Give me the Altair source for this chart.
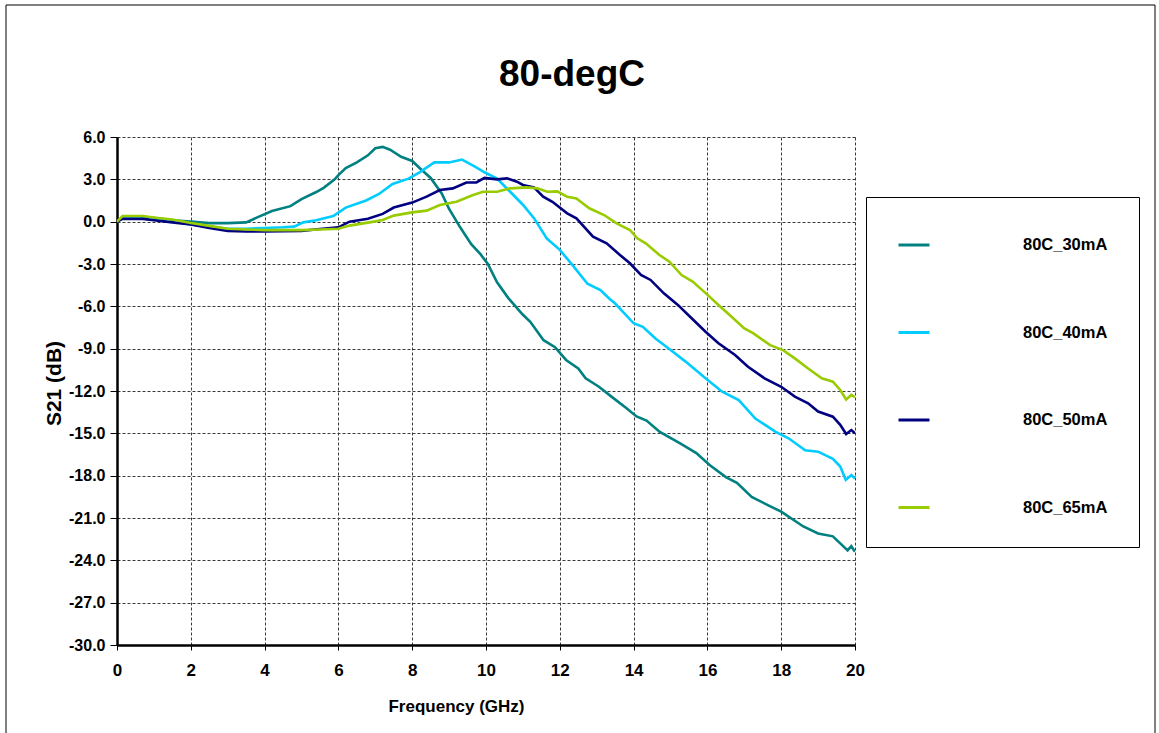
import altair as alt
import pandas as pd

# ---- data ----
series_names = ["80C_30mA", "80C_40mA", "80C_50mA", "80C_65mA"]
series_colors = ["#008080", "#00CCFF", "#000080", "#99CC00"]

freq_30 = [0.0, 0.15, 0.5, 1.0, 1.5, 2.0, 2.5, 3.0, 3.5, 3.8, 4.2, 4.7, 5.0, 5.4, 5.6, 5.9, 6.0, 6.2, 6.5,
           6.8, 7.0, 7.2, 7.4, 7.7, 8.0, 8.2, 8.5, 8.8, 9.0, 9.3, 9.6, 9.85, 10.05, 10.3, 10.6, 10.8, 11.0,
           11.2, 11.56, 11.87, 12.17, 12.5, 12.7, 13.06, 13.4, 13.8, 14.08, 14.35, 14.71, 15.25, 15.7,
           16.06, 16.5, 16.8, 17.2, 17.65, 18.0, 18.6, 19.0, 19.4, 19.6, 19.8, 19.9, 20.0]
s21_30 = [0.0, 0.3, 0.3, 0.25, 0.1, 0.0, -0.1, -0.1, -0.05, 0.3, 0.75, 1.1, 1.6, 2.1, 2.4, 3.0, 3.3, 3.8, 4.2,
          4.7, 5.2, 5.3, 5.1, 4.6, 4.3, 3.8, 3.1, 2.0, 0.9, -0.4, -1.6, -2.3, -3.0, -4.3, -5.4, -6.0, -6.6,
          -7.1, -8.4, -8.9, -9.8, -10.4, -11.1, -11.7, -12.4, -13.2, -13.8, -14.1, -14.9, -15.7, -16.4,
          -17.25, -18.1, -18.5, -19.5, -20.1, -20.55, -21.6, -22.1, -22.3, -22.8, -23.3, -23.0, -23.4]

freq_40 = [0.0, 0.15, 0.5, 1.0, 1.5, 2.0, 2.5, 3.0, 3.5, 4.0, 4.5, 4.8, 5.05, 5.4, 5.86, 6.2, 6.75, 7.1, 7.47,
           7.9, 8.2, 8.6, 9.0, 9.35, 9.7, 9.96, 10.3, 10.66, 11.0, 11.3, 11.65, 12.0, 12.35, 12.75, 13.1,
           13.36, 13.5, 14.0, 14.25, 14.6, 14.96, 15.4, 15.95, 16.4, 16.85, 17.3, 17.85, 18.2, 18.65, 19.0,
           19.4, 19.6, 19.75, 19.9, 20.0]
s21_40 = [0.0, 0.25, 0.25, 0.15, 0.0, -0.2, -0.35, -0.5, -0.5, -0.45, -0.4, -0.35, -0.05, 0.1, 0.4, 1.0, 1.5,
          1.96, 2.67, 3.05, 3.5, 4.2, 4.2, 4.4, 3.9, 3.5, 3.05, 2.1, 1.2, 0.25, -1.2, -2.0, -3.1, -4.4, -4.85,
          -5.5, -5.8, -7.2, -7.45, -8.3, -9.0, -9.9, -11.1, -12.05, -12.65, -13.95, -14.9, -15.35, -16.2,
          -16.3, -16.8, -17.35, -18.3, -17.95, -18.2]

freq_50 = [0.0, 0.15, 0.7, 1.0, 1.5, 2.0, 2.5, 3.0, 3.5, 4.0, 4.5, 5.0, 5.5, 6.0, 6.3, 6.8, 7.2, 7.5, 8.0,
           8.39, 8.75, 9.1, 9.47, 9.74, 9.96, 10.3, 10.57, 10.84, 11.0, 11.3, 11.55, 11.8, 12.2, 12.45, 12.9,
           13.27, 13.63, 13.9, 14.2, 14.46, 14.82, 15.2, 15.53, 15.95, 16.3, 16.75, 17.1, 17.55, 18.0, 18.37,
           18.73, 19.0, 19.4, 19.6, 19.76, 19.9, 20.0]
s21_50 = [0.0, 0.2, 0.2, 0.1, -0.05, -0.2, -0.45, -0.65, -0.7, -0.7, -0.68, -0.65, -0.52, -0.4, 0.0, 0.2,
          0.55, 1.0, 1.35, 1.77, 2.24, 2.36, 2.78, 2.78, 3.1, 3.0, 3.07, 2.83, 2.6, 2.43, 1.77, 1.41, 0.59,
          0.24, -1.06, -1.53, -2.36, -2.95, -3.78, -4.13, -5.08, -5.9, -6.74, -7.8, -8.62, -9.45, -10.28,
          -11.1, -11.7, -12.4, -12.87, -13.46, -13.82, -14.4, -15.05, -14.77, -15.0]

freq_65 = [0.0, 0.15, 0.7, 1.0, 1.5, 2.0, 2.5, 3.0, 3.5, 4.0, 4.5, 5.0, 5.5, 6.0, 6.3, 7.0, 7.2, 7.5, 8.0,
           8.39, 8.75, 9.2, 9.65, 9.92, 10.3, 10.66, 11.1, 11.39, 11.66, 11.93, 12.2, 12.45, 12.8, 13.2,
           13.54, 13.9, 14.1, 14.33, 14.7, 14.97, 15.3, 15.6, 15.96, 16.3, 16.7, 17.0, 17.24, 17.7, 18.05,
           18.37, 18.73, 19.1, 19.4, 19.6, 19.76, 19.9, 20.0]
s21_65 = [0.0, 0.4, 0.4, 0.3, 0.15, -0.1, -0.3, -0.5, -0.55, -0.6, -0.6, -0.6, -0.55, -0.5, -0.28, 0.02,
          0.12, 0.43, 0.66, 0.78, 1.18, 1.41, 1.89, 2.12, 2.12, 2.36, 2.43, 2.36, 2.12, 2.15, 1.77, 1.65,
          0.95, 0.47, -0.12, -0.59, -1.18, -1.53, -2.36, -2.84, -3.78, -4.25, -5.08, -5.9, -6.85, -7.56,
          -7.9, -8.75, -9.1, -9.69, -10.4, -11.1, -11.34, -11.93, -12.6, -12.28, -12.44]

x_ticks = list(range(0, 21, 2))
y_ticks = [-30, -27, -24, -21, -18, -15, -12, -9, -6, -3, 0, 3, 6]

rows = []
for name, fs, vs in zip(series_names, [freq_30, freq_40, freq_50, freq_65], [s21_30, s21_40, s21_50, s21_65]):
    for i, (f, v) in enumerate(zip(fs, vs)):
        rows.append({"series": name, "freq": f, "s21": v, "order": i})
df = pd.DataFrame(rows)

FONT = "Liberation Sans"
W, H = 738, 508

lines = alt.Chart(df).mark_line(strokeWidth=2.6, clip=True).encode(
    x=alt.X("freq:Q", scale=alt.Scale(domain=[0, 20], nice=False),
            axis=alt.Axis(values=x_ticks, format="d", title="Frequency (GHz)",
                          titleX=339, titleY=53, titleFontSize=17, titleFont=FONT,
                          titleFontWeight="bold", labelFontSize=17, labelPadding=12,
                          tickSize=5, labelFlush=False)),
    y=alt.Y("s21:Q", scale=alt.Scale(domain=[-30, 6], nice=False),
            axis=alt.Axis(values=y_ticks,
                          labelExpr="replace(format(datum.value, '.1f'), '\u2212', '-')",
                          title="S21 (dB)",
                          titleX=-63, titleY=246, titleFontSize=21, titleFont=FONT,
                          titleFontWeight="bold", titleAngle=270, titleAlign="center",
                          titleBaseline="middle",
                          labelFontSize=16, labelPadding=5, tickSize=7, labelFlush=False)),
    color=alt.Color("series:N",
                    scale=alt.Scale(domain=series_names, range=series_colors),
                    legend=alt.Legend(title=None, orient="none", legendX=749, legendY=60,
                                      symbolType="stroke", symbolSize=961, symbolStrokeWidth=3,
                                      labelOffset=92, rowPadding=61.5, padding=31,
                                      strokeColor="black", fillColor="white",
                                      labelFont=FONT, labelFontSize=16.5, labelFontWeight="bold",
                                      labelColor="black")),
    order="order:Q",
)

frame = alt.Chart(pd.DataFrame({"k": [0]})).mark_rect(
    fill=None, stroke="black", strokeWidth=1, clip=False
).encode(x=alt.value(-111), x2=alt.value(1038), y=alt.value(-132), y2=alt.value(620))

chart = alt.layer(frame, lines).properties(
    width=W, height=H,
    title=alt.TitleParams("80-degC", fontSize=37, fontWeight="bold", font=FONT,
                          anchor="middle", frame="group", dx=86, offset=0, dy=118,
                          baseline="alphabetic", color="black"),
    padding={"left": 117, "top": 137, "right": 304, "bottom": 88},
    autosize=alt.AutoSizeParams(type="none"),
).configure_axis(
    labelFont=FONT, labelFontWeight="bold", labelColor="black",
    domainColor="black", domainWidth=2.5, tickColor="black", tickWidth=1,
    grid=True, gridColor="#3a3a3a", gridDash=[3, 2], gridWidth=1, gridOpacity=1,
    titleColor="black",
).configure_view(stroke=None)

chart.save("out.html", embed_options={"renderer": "svg", "actions": False})
